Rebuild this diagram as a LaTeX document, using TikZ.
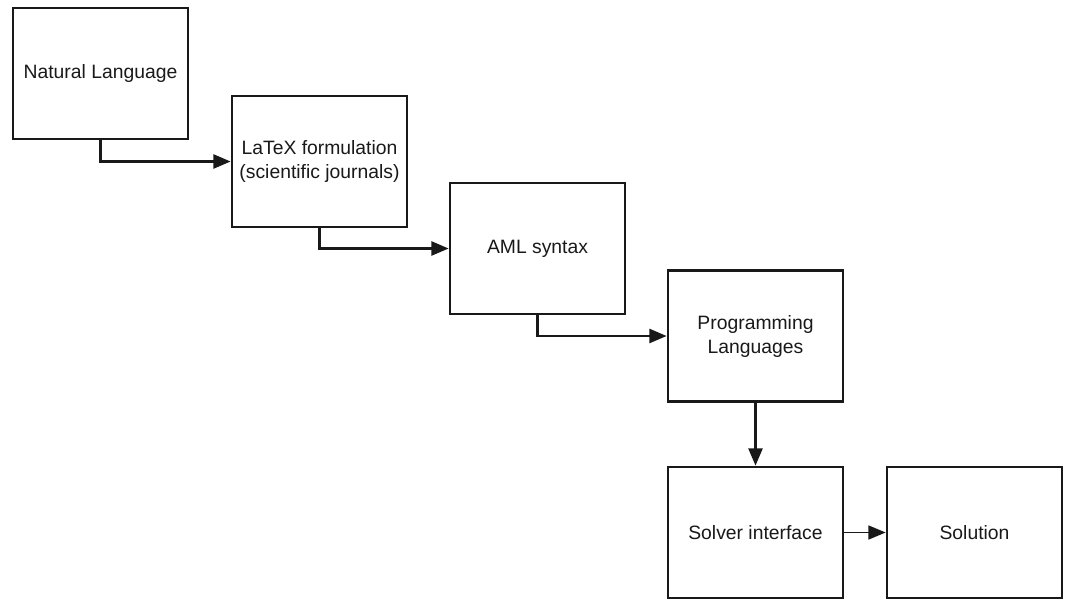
\documentclass[tikz,border=0pt]{standalone}
\usepackage{fontspec}
\setmainfont{Liberation Sans}
\usetikzlibrary{arrows.meta}
\begin{document}
\begin{tikzpicture}[x=0.75pt,y=-0.75pt,
  box/.style={draw=black!90, line width=2pt, fill=white, minimum width=131.25pt, minimum height=98.25pt, align=center, inner sep=0pt, font=\fontsize{14.5pt}{18pt}\selectfont, text=black!90},
  conn/.style={draw=black!90, line width=1.9pt, -{Triangle[length=13pt,width=10.5pt]}},
  thinconn/.style={draw=black!90, line width=1.3pt, -{Triangle[length=13pt,width=10.5pt]}}]
\useasboundingbox (0,0) rectangle (1070,600);
\node[box] (n1) at (100.5,73.5) {Natural Language};
\node[box] (n2) at (319.5,161.5) {LaTeX formulation\\(scientific journals)};
\node[box] (n3) at (537.5,248.5) {AML syntax};
\node[box] (n4) at (755.5,336) {Programming\\Languages};
\node[box] (n5) at (755.5,532.5) {Solver interface};
\node[box] (n6) at (974.5,532.5) {Solution};
\draw[conn] (n1.south) |- (n2.west);
\draw[conn] (n2.south) |- (n3.west);
\draw[conn] (n3.south) |- (n4.west);
\draw[conn] (n4.south) -- (n5.north);
\draw[thinconn] (n5.east) -- (n6.west);
\end{tikzpicture}
\end{document}
